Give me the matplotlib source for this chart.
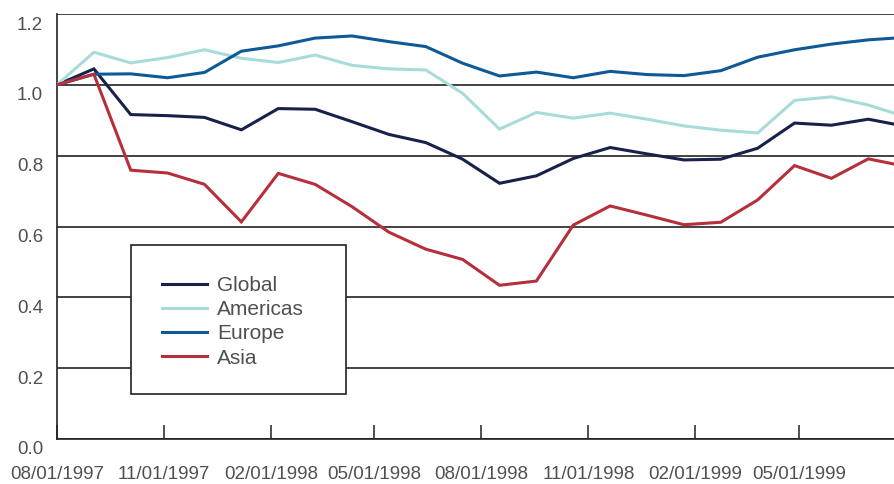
import matplotlib
matplotlib.use("Agg")
import matplotlib.pyplot as plt
import matplotlib.dates as mdates
import matplotlib.transforms as mtransforms
from matplotlib.patches import Rectangle
import pandas as pd

# ---- data ----
dates = pd.date_range("1997-08-01", periods=24, freq="761h")
global_vals = [1.000, 1.045, 0.916, 0.913, 0.908, 0.873, 0.933, 0.931, 0.896, 0.860,
               0.837, 0.790, 0.722, 0.743, 0.792, 0.823, 0.805, 0.788, 0.790, 0.821,
               0.892, 0.886, 0.903, 0.883]
americas_vals = [1.000, 1.092, 1.062, 1.077, 1.099, 1.075, 1.063, 1.084, 1.055, 1.045,
                 1.042, 0.976, 0.875, 0.922, 0.906, 0.920, 0.903, 0.884, 0.872, 0.864,
                 0.956, 0.966, 0.943, 0.910]
europe_vals = [1.000, 1.030, 1.031, 1.020, 1.035, 1.095, 1.110, 1.132, 1.138, 1.122,
               1.108, 1.061, 1.025, 1.036, 1.020, 1.038, 1.029, 1.026, 1.040, 1.078,
               1.099, 1.115, 1.127, 1.134]
asia_vals = [1.000, 1.030, 0.759, 0.751, 0.719, 0.613, 0.750, 0.719, 0.656, 0.584,
             0.536, 0.507, 0.434, 0.446, 0.604, 0.658, 0.632, 0.605, 0.612, 0.675,
             0.772, 0.736, 0.791, 0.770]
series_names = ["Global", "Americas", "Europe", "Asia"]
series_colors = ["#16224a", "#a8dcd8", "#0d5a96", "#b5303a"]
tick_dates = pd.to_datetime(["1997-08-01", "1997-11-01", "1998-02-01", "1998-05-01",
                             "1998-08-01", "1998-11-01", "1999-02-01", "1999-05-01"])
y_ticks = [0.0, 0.2, 0.4, 0.6, 0.8, 1.0, 1.2]

plt.rcParams["font.family"] = ["Liberation Sans", "DejaVu Sans"]

fig = plt.figure(figsize=(8.94, 4.84), dpi=100)
ax = fig.add_axes([57 / 894, 1 - 439 / 484, 837 / 894, 425 / 484])

for vals, name, col in zip([global_vals, americas_vals, europe_vals, asia_vals],
                           series_names, series_colors):
    ax.plot(dates, vals, color=col, lw=2.2, label=name, zorder=3,
            solid_joinstyle="miter")

x0 = mdates.date2num(pd.Timestamp("1997-08-01"))
ax.set_xlim(x0, x0 + 719.7)
ax.set_ylim(0, 1.2)

ax.set_yticks(y_ticks)
ax.set_yticklabels([f"{v:.1f}" for v in y_ticks])
ax.set_xticks(mdates.date2num(tick_dates))
ax.set_xticklabels([d.strftime("%m/%d/%Y") for d in tick_dates])

ax.yaxis.grid(True, color="#222222", lw=1.2)
ax.set_axisbelow(True)
for s in ["top", "right"]:
    ax.spines[s].set_visible(False)
for s in ["left", "bottom"]:
    ax.spines[s].set_color("#222222")
    ax.spines[s].set_linewidth(1.2)

ax.tick_params(axis="y", length=0, pad=10, labelsize=13.5, labelcolor="#505050")
ax.tick_params(axis="x", direction="in", length=10, width=1.2, color="#333333",
               pad=19.5, labelsize=13.5, labelcolor="#505050")

# y tick labels sit slightly below their gridlines
offset = mtransforms.ScaledTranslation(0, -0.09, fig.dpi_scale_trans)
for lbl in ax.get_yticklabels():
    lbl.set_transform(lbl.get_transform() + offset)

# legend box
ax.add_patch(Rectangle((74 / 837, 45 / 425), 215 / 837, 149 / 425,
                       transform=ax.transAxes, facecolor="white",
                       edgecolor="#222222", lw=1.2, zorder=4))
leg = ax.legend(loc="upper left", bbox_to_anchor=(105 / 837, 163 / 425),
                frameon=False, fontsize=15, handlelength=2.16, handletextpad=0.48,
                labelspacing=0.25, borderpad=0, borderaxespad=0)
leg.set_zorder(5)
for t in leg.get_texts():
    t.set_color("#505050")

fig.savefig("out.png", dpi=100)
